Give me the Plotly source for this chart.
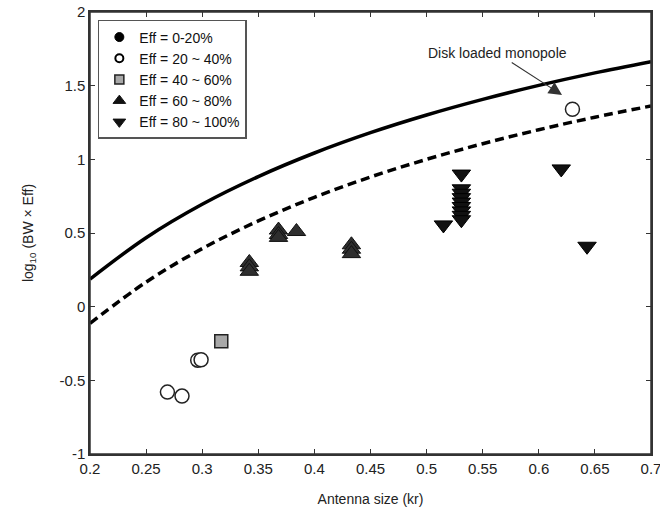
import plotly.graph_objects as go

# ---- data ----
kr_curve = [0.20, 0.25, 0.30, 0.35, 0.40, 0.45, 0.50, 0.55, 0.60, 0.65, 0.70]
limit_dashed = [-0.114, 0.167, 0.394, 0.582, 0.742, 0.880, 1.000, 1.106, 1.201, 1.286, 1.362]
limit_solid = [0.187, 0.468, 0.695, 0.883, 1.043, 1.181, 1.301, 1.407, 1.502, 1.587, 1.663]

eff20_40_x = [0.269, 0.282, 0.296, 0.299, 0.630]
eff20_40_y = [-0.58, -0.607, -0.363, -0.36, 1.34]

eff40_60_x = [0.317]
eff40_60_y = [-0.234]

eff60_80_x = [0.342, 0.342, 0.342, 0.368, 0.368, 0.368, 0.384, 0.433, 0.433, 0.433]
eff60_80_y = [0.30, 0.27, 0.24, 0.52, 0.49, 0.47, 0.51, 0.42, 0.39, 0.36]

eff80_100_x = [0.531, 0.531, 0.531, 0.531, 0.531, 0.531, 0.531, 0.531, 0.531, 0.515, 0.620, 0.643]
eff80_100_y = [0.90, 0.80, 0.77, 0.74, 0.71, 0.68, 0.65, 0.62, 0.59, 0.555, 0.935, 0.41]

legend_labels = ["Eff = 0-20%", "Eff = 20 ~ 40%", "Eff = 40 ~ 60%", "Eff = 60 ~ 80%", "Eff = 80 ~ 100%"]

x_ticks = [0.2, 0.25, 0.3, 0.35, 0.4, 0.45, 0.5, 0.55, 0.6, 0.65, 0.7]
y_ticks = [-1, -0.5, 0, 0.5, 1, 1.5, 2]

FONT = "Arial, Liberation Sans, sans-serif"

fig = go.Figure()

fig.add_trace(go.Scatter(x=kr_curve, y=limit_solid, mode="lines", line=dict(color="black", width=3.5, shape="spline"),
                         showlegend=False, hoverinfo="skip"))
fig.add_trace(go.Scatter(x=kr_curve, y=limit_dashed, mode="lines",
                         line=dict(color="black", width=3.5, dash="9px,5px", shape="spline"),
                         showlegend=False, hoverinfo="skip"))

fig.add_trace(go.Scatter(x=eff20_40_x, y=eff20_40_y, mode="markers", showlegend=False,
                         marker=dict(symbol="circle", size=14, color="white", line=dict(color="#222", width=1.5))))
fig.add_trace(go.Scatter(x=eff40_60_x, y=eff40_60_y, mode="markers", showlegend=False,
                         marker=dict(symbol="square", size=13, color="#a8a8a8", line=dict(color="#222", width=1.5))))
fig.add_trace(go.Scatter(x=eff60_80_x, y=eff60_80_y, mode="markers", showlegend=False,
                         marker=dict(symbol="triangle-up", size=16, color="#2e2e2e", line=dict(color="#111", width=1))))
fig.add_trace(go.Scatter(x=eff80_100_x, y=eff80_100_y, mode="markers", showlegend=False,
                         marker=dict(symbol="triangle-down", size=16, color="#111", line=dict(color="#000", width=1))))

# legend-only entries (small symbols)
leg_markers = [
    dict(symbol="circle", size=9, color="black", line=dict(color="black", width=1)),
    dict(symbol="circle", size=8, color="white", line=dict(color="black", width=2)),
    dict(symbol="square", size=9, color="#a8a8a8", line=dict(color="#222", width=1.5)),
    dict(symbol="triangle-up", size=11, color="#111", line=dict(color="#111", width=1)),
    dict(symbol="triangle-down", size=11, color="#111", line=dict(color="#111", width=1)),
]
for lab, mk in zip(legend_labels, leg_markers):
    fig.add_trace(go.Scatter(x=[None], y=[None], mode="markers", name=lab, marker=mk))

# invisible trace to carry the right-hand tick axis
fig.add_trace(go.Scatter(x=[None], y=[None], yaxis="y2", showlegend=False, hoverinfo="skip"))

fig.add_annotation(x=0.6207, y=1.437, text="Disk loaded monopole", showarrow=True,
                   ax=-65, ay=-42, arrowhead=2, arrowsize=2.4, arrowwidth=1.1, arrowcolor="#333",
                   font=dict(family=FONT, size=14, color="#222"))

# plot frame
fig.add_shape(type="rect", xref="paper", yref="paper", x0=0, x1=1, y0=0, y1=1,
              line=dict(color="#333", width=1.5), layer="above")

axis_common = dict(showgrid=False, zeroline=False, showline=True, linecolor="#333", linewidth=1.5,
                   mirror="ticks", ticks="inside", ticklen=5, tickcolor="#333", tickwidth=1,
                   automargin=False, ticklabeloverflow="allow",
                   tickfont=dict(family=FONT, size=15, color="#222"))

fig.update_xaxes(range=[0.2, 0.7], tickvals=x_ticks, ticktext=[str(v) for v in x_ticks],
                 title=dict(text="Antenna size (kr)", font=dict(family=FONT, size=14, color="#222"), standoff=18),
                 **axis_common)
fig.update_yaxes(range=[-1, 2], tickvals=y_ticks, ticktext=[str(v) if v % 1 else str(int(v)) for v in y_ticks],
                 title=dict(text="log<sub>10</sub> (BW × Eff)", font=dict(family=FONT, size=14, color="#222"), standoff=22),
                 **axis_common)

fig.update_layout(
    width=660, height=513,
    margin=dict(l=90, r=9, t=12, b=59),
    paper_bgcolor="white", plot_bgcolor="white",
    font=dict(family=FONT, size=14, color="#222"),
    yaxis2=dict(overlaying="y", side="right", range=[-1, 2], tickvals=y_ticks, showticklabels=False,
                ticks="inside", ticklen=5, tickcolor="#333", tickwidth=1, showgrid=False, zeroline=False,
                showline=True, linecolor="#333", linewidth=1.5, automargin=False),
    legend=dict(x=0.014, y=0.982, xanchor="left", yanchor="top", bgcolor="white",
                bordercolor="#555", borderwidth=1.5, font=dict(family=FONT, size=14, color="#111"),
                tracegroupgap=0),
)

fig.write_html("out.html", config={"displayModeBar": False},
               post_script="document.body.style.margin='0';document.body.style.overflow='hidden';")
